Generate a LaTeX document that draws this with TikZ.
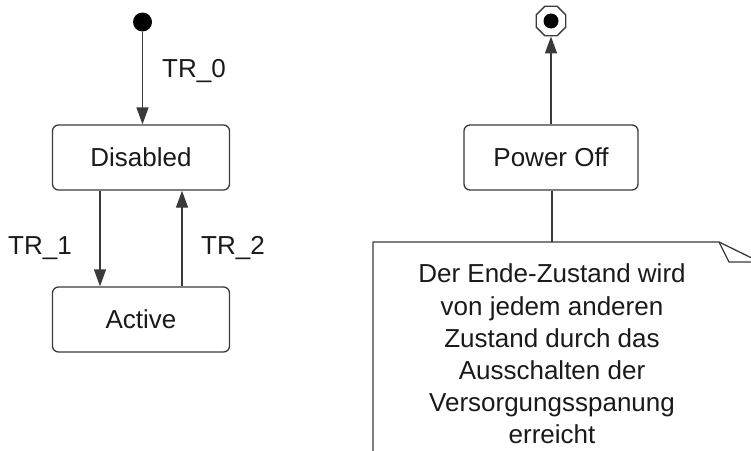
\documentclass[tikz,border=0pt]{standalone}
\usepackage{fontspec}
\setmainfont{Liberation Sans}
\usetikzlibrary{arrows.meta,shapes.geometric}
\definecolor{ln}{HTML}{3A3A3A}
\definecolor{tx}{HTML}{1A1A1A}
\tikzset{
  statebox/.style={draw=ln, line width=1.3pt, rounded corners=6pt, minimum width=177pt, minimum height=65pt, inner sep=0pt, text=tx, font=\fontsize{26}{30}\selectfont},
  lbl/.style={text=tx, inner sep=0pt, font=\fontsize{26}{30}\selectfont},
  conn/.style={draw=ln, line width=1.3pt, -{Triangle[length=17pt,width=12pt]}},
  plain/.style={draw=ln, line width=1.3pt}
}
\begin{document}
\begin{tikzpicture}[x=1pt,y=-1pt]
\useasboundingbox (0,0) rectangle (751,450);
\clip (0,0) rectangle (751,450);
% left machine
\node[circle, fill=black, inner sep=0pt, minimum size=19pt] (init) at (142.5,22) {};
\node[statebox] (disabled) at (141,157.5) {Disabled};
\node[statebox] (active) at (141,319.5) {Active};
\draw[conn] (init) -- (init |- disabled.north);
\draw[conn] (disabled.south -| 100,0) -- (active.north -| 100,0);
\draw[conn] (active.north -| 182,0) -- (disabled.south -| 182,0);
\node[lbl] (tr0) at (194,71) {TR\_0};
\node[lbl] (tr1) at (40,248) {TR\_1};
\node[lbl] (tr2) at (233,248) {TR\_2};
% right machine
\node[regular polygon, regular polygon sides=8, draw=ln, line width=1.3pt, minimum size=32pt, inner sep=0pt, fill=white] (final) at (551,21) {};
\node[circle, fill=black, inner sep=0pt, minimum size=15pt] (finaldot) at (final.center) {};
\node[statebox, minimum width=174pt] (poweroff) at (551,157.5) {Power Off};
\draw[conn] (poweroff) -- (final);
% note
\coordinate (notetop) at (552,242);
\draw[plain] (poweroff.south -| notetop) -- (notetop);
\draw[plain, line join=round] (373,460) -- (373,242) -- (719,242) -- (760,262);
\draw[plain, line join=round] (719,242) -- (729,262) -- (760,262);
\node[text=tx, align=center, inner sep=0pt, font=\fontsize{26}{32.2}\selectfont] (notetext) at (552,354)
  {Der Ende-Zustand wird\\von jedem anderen\\Zustand durch das\\Ausschalten der\\Versorgungsspanung\\erreicht};
\end{tikzpicture}
\end{document}
